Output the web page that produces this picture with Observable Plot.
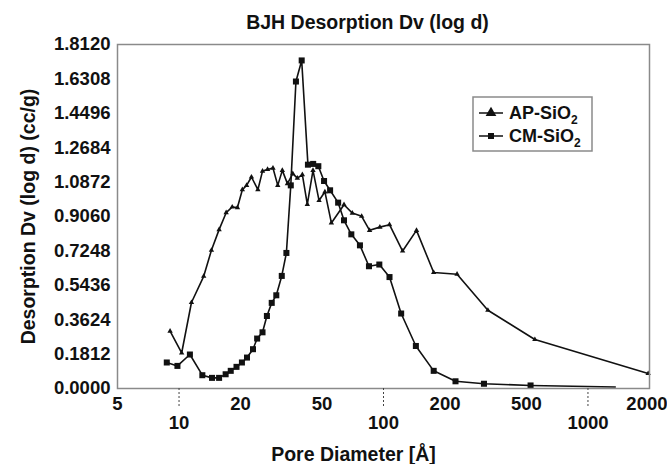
<!DOCTYPE html>
<html><head><meta charset="utf-8">
<script src="https://cdn.jsdelivr.net/npm/d3@7"></script>
<script src="https://cdn.jsdelivr.net/npm/@observablehq/plot@0.6"></script>
<style>
body{margin:0;background:#fff;}
#chart{width:667px;height:464px;font-family:"Liberation Sans",Arial,sans-serif;}
</style>
</head><body><div id="chart"></div>
<script>
const chartTitle = "BJH Desorption Dv (log d)";
const xTitle = "Pore Diameter [Å]";
const yTitle = "Desorption Dv (log d) (cc/g)";
const seriesNames = ["AP-SiO", "CM-SiO"];

const apDiameter = [9.04, 10.3, 11.5, 13.2, 14.4, 15.7, 17.0, 18.2, 19.3, 20.4, 21.4, 22.6, 24.3, 25.6, 27.1, 28.8, 30.4, 32.0, 33.9, 36.0, 37.9, 40.1, 42.4, 45.2, 48.4, 51.7, 55.6, 64.1, 70.4, 78.2, 85.5, 96, 107, 124, 145, 176, 229, 324, 550, 1970];
const apDv = [0.302, 0.187, 0.453, 0.591, 0.728, 0.837, 0.926, 0.956, 0.953, 1.047, 1.070, 1.114, 1.047, 1.145, 1.154, 1.161, 1.070, 1.149, 1.079, 1.132, 1.108, 1.126, 0.970, 1.149, 0.990, 1.036, 0.872, 0.968, 0.924, 0.907, 0.833, 0.850, 0.863, 0.724, 0.833, 0.611, 0.602, 0.412, 0.258, 0.079];

const cmDiameter = [8.71, 9.82, 11.3, 13.0, 14.5, 15.7, 16.9, 17.9, 19.1, 20.3, 21.5, 23.0, 24.1, 25.6, 26.9, 28.4, 29.9, 31.8, 33.5, 35.2, 37.3, 39.8, 42.7, 45.3, 48.0, 51.2, 54.8, 60.0, 64.1, 69.6, 76.7, 84.9, 95.4, 107, 122, 144, 176, 225, 310, 524, 1360];
const cmDv = [0.137, 0.119, 0.179, 0.070, 0.056, 0.056, 0.075, 0.093, 0.114, 0.137, 0.163, 0.207, 0.263, 0.296, 0.382, 0.451, 0.491, 0.593, 0.714, 1.070, 1.617, 1.728, 1.179, 1.183, 1.171, 1.093, 1.044, 0.979, 0.886, 0.812, 0.754, 0.644, 0.653, 0.587, 0.395, 0.224, 0.093, 0.038, 0.025, 0.016, 0.008];

const yTicks = [0, 0.1812, 0.3624, 0.5436, 0.7248, 0.9060, 1.0872, 1.2684, 1.4496, 1.6308, 1.8120];
const xTicksUpper = [5, 20, 50, 200, 500];
const xTickEdge = [2000];
const xTicksLower = [10, 100, 1000];

const ap = apDiameter.map((d, i) => ({d, v: apDv[i]}));
const cm = cmDiameter.map((d, i) => ({d, v: cmDv[i]}));

const font = {fontSize: 18.5, fontWeight: "bold", fill: "#111"};
const titleFont = {fontSize: 19.5, fontWeight: "bold", fill: "#111"};

const plot = Plot.plot({
  width: 667, height: 464,
  marginLeft: 117, marginRight: 18, marginTop: 44, marginBottom: 76,
  style: {fontFamily: '"Liberation Sans", Arial, sans-serif', background: "white", color: "#111"},
  x: {type: "log", domain: [5, 2000]},
  y: {domain: [0, 1.812]},
  marks: [
    Plot.line(ap, {x: "d", y: "v", stroke: "#111", strokeWidth: 1.6}),
    Plot.dot(ap, {x: "d", y: "v", symbol: "triangle", r: 2, fill: "#111"}),
    Plot.line(cm, {x: "d", y: "v", stroke: "#111", strokeWidth: 1.6}),
    Plot.dot(cm.slice(0, -1), {x: "d", y: "v", symbol: "square", r: 3.4, fill: "#111"}),
    Plot.frame({stroke: "#8a8a8a", strokeWidth: 1.5}),
    Plot.axisY({ticks: yTicks, tickFormat: d => d.toFixed(4), tickSize: 0, tickPadding: 7, label: null, ...font}),
    Plot.axisX({ticks: xTicksLower, tickFormat: () => "", tickSize: 20, strokeDasharray: "2,2", stroke: "#444", label: null}),
    Plot.text(xTicksUpper, {x: d => d, frameAnchor: "bottom", dy: 16, lineAnchor: "middle", text: d => String(d), ...font}),
    Plot.text(xTickEdge, {x: d => d, frameAnchor: "bottom", dy: 16, dx: 18, textAnchor: "end", lineAnchor: "middle", text: d => String(d), ...font}),
    Plot.text(xTicksLower, {x: d => d, frameAnchor: "bottom", dy: 35, lineAnchor: "middle", text: d => String(d), ...font}),
    Plot.text([chartTitle], {frameAnchor: "top", dx: -16, dy: -22, lineAnchor: "middle", ...titleFont}),
    Plot.text([xTitle], {frameAnchor: "bottom", dx: -30, dy: 66, lineAnchor: "middle", ...titleFont}),
    Plot.text([yTitle], {frameAnchor: "left", dx: -89, rotate: -90, textAnchor: "middle", lineAnchor: "middle", ...titleFont})
  ]
});
document.getElementById("chart").appendChild(plot);

// legend
const svg = d3.select(plot);
const lg = svg.append("g").attr("font-family", '"Liberation Sans", Arial, sans-serif').attr("text-anchor", "start");
lg.append("rect").attr("x", 473).attr("y", 97).attr("width", 119).attr("height", 54)
  .attr("fill", "white").attr("stroke", "#8a8a8a").attr("stroke-width", 1.5);
const rows = [{name: seriesNames[0], y: 113, sym: d3.symbolTriangle, size: 50},
              {name: seriesNames[1], y: 136, sym: d3.symbolSquare, size: 36}];
rows.forEach(r => {
  lg.append("line").attr("x1", 479).attr("x2", 503).attr("y1", r.y).attr("y2", r.y).attr("stroke", "#111").attr("stroke-width", 1.5);
  lg.append("path").attr("d", d3.symbol(r.sym, r.size)()).attr("transform", `translate(491,${r.y})`).attr("fill", "#111");
  const t = lg.append("text").attr("x", 509).attr("y", r.y).attr("dy", "0.36em").attr("text-anchor", "start")
    .attr("font-size", 18).attr("font-weight", "bold").attr("fill", "#111");
  t.append("tspan").text(r.name);
  t.append("tspan").attr("font-size", 12).attr("dy", "0.35em").text("2");
});
</script>
</body></html>
